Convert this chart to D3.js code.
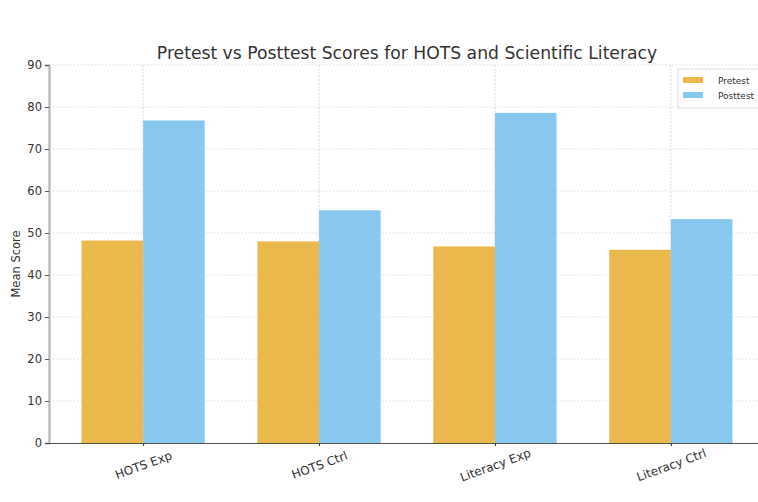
<!DOCTYPE html>
<html>
<head>
<meta charset="utf-8">
<script src="https://cdn.jsdelivr.net/npm/d3@7"></script>
<style>
  body { margin: 0; background: #fff; }
  text { font-family: "DejaVu Sans", sans-serif; }
</style>
</head>
<body>
<div id="chart"></div>
<script>
// data
const groups = ["HOTS Exp", "HOTS Ctrl", "Literacy Exp", "Literacy Ctrl"];
const pretest = [48.2, 48.0, 46.8, 46.0];
const posttest = [76.8, 55.4, 78.6, 53.3];
const yTicks = [0, 10, 20, 30, 40, 50, 60, 70, 80, 90];

(function () {
  const W = 758, H = 502;
  const plot = { left: 49, right: 765, top: 65, bottom: 443 };

  const svg = d3.select("#chart").append("svg")
    .attr("width", W).attr("height", H);

  // x positions: group index with matplotlib-style margins
  const x = d3.scaleLinear().domain([-0.535, 3.535]).range([plot.left, plot.right]);
  const y = d3.scaleLinear().domain([0, 90]).range([plot.bottom, plot.top]);
  const barW = x(0.35) - x(0);

  // gridlines
  svg.append("g").selectAll("line").data(yTicks).enter().append("line")
    .attr("x1", plot.left).attr("x2", W)
    .attr("y1", d => y(d)).attr("y2", d => y(d))
    .attr("stroke", "#dcdcdc").attr("stroke-width", 0.8)
    .attr("stroke-dasharray", "2,1.5");
  svg.append("g").selectAll("line").data(groups).enter().append("line")
    .attr("x1", (d, i) => x(i)).attr("x2", (d, i) => x(i))
    .attr("y1", plot.top).attr("y2", plot.bottom)
    .attr("stroke", "#d0d0d0").attr("stroke-width", 0.8)
    .attr("stroke-dasharray", "2,1.5");

  // bars
  svg.append("g").selectAll("rect").data(pretest).enter().append("rect")
    .attr("x", (d, i) => x(i) - barW)
    .attr("y", d => y(d))
    .attr("width", barW)
    .attr("height", d => plot.bottom - y(d))
    .attr("fill", "#EBB84C");
  svg.append("g").selectAll("rect").data(posttest).enter().append("rect")
    .attr("x", (d, i) => x(i))
    .attr("y", d => y(d))
    .attr("width", barW)
    .attr("height", d => plot.bottom - y(d))
    .attr("fill", "#88C8EE");

  // y axis
  const yAxis = svg.append("g")
    .attr("transform", `translate(${plot.left},0)`)
    .call(d3.axisLeft(y).tickValues(yTicks).tickSize(4).tickPadding(3));
  yAxis.select(".domain").attr("stroke", "#b4b4b4").attr("stroke-width", 2.2);
  yAxis.selectAll(".tick line").attr("stroke", "#555");
  yAxis.selectAll(".tick text").attr("fill", "#333").style("font-size", "11.5px");

  // x axis
  const xAxis = svg.append("g")
    .attr("transform", `translate(0,${plot.bottom})`)
    .call(d3.axisBottom(x).tickValues([0, 1, 2, 3]).tickFormat(i => groups[i]).tickSize(3).tickSizeOuter(0));
  xAxis.select(".domain").attr("stroke", "#555").attr("stroke-width", 1.2)
    .attr("d", `M${plot.left},0.5H${W}`);
  xAxis.selectAll(".tick line").attr("stroke", "#333");
  xAxis.selectAll(".tick text")
    .attr("fill", "#333").style("font-size", "12px")
    .attr("text-anchor", "middle")
    .attr("y", 0).attr("dy", "0.35em")
    .attr("transform", "translate(0,22) rotate(-20)");

  // y label
  svg.append("text")
    .attr("transform", `translate(20,${(plot.top + plot.bottom) / 2 + 10}) rotate(-90)`)
    .attr("text-anchor", "middle")
    .attr("fill", "#333").style("font-size", "11.5px")
    .text("Mean Score");

  // title
  svg.append("text")
    .attr("x", 407).attr("y", 59)
    .attr("text-anchor", "middle")
    .attr("fill", "#333").style("font-size", "17.2px")
    .text("Pretest vs Posttest Scores for HOTS and Scientific Literacy");

  // legend
  const legend = svg.append("g").attr("transform", "translate(678,69)");
  legend.append("rect")
    .attr("width", 82).attr("height", 39)
    .attr("fill", "#fff").attr("stroke", "#ddd");
  [{ name: "Pretest", color: "#EBB84C" }, { name: "Posttest", color: "#88C8EE" }]
    .forEach((d, i) => {
      const row = legend.append("g").attr("transform", `translate(5,${8 + i * 15})`);
      row.append("rect").attr("width", 20).attr("height", 6).attr("fill", d.color);
      row.append("text").attr("x", 35).attr("y", 7)
        .attr("fill", "#333").style("font-size", "9px").text(d.name);
    });
})();
</script>
</body>
</html>
